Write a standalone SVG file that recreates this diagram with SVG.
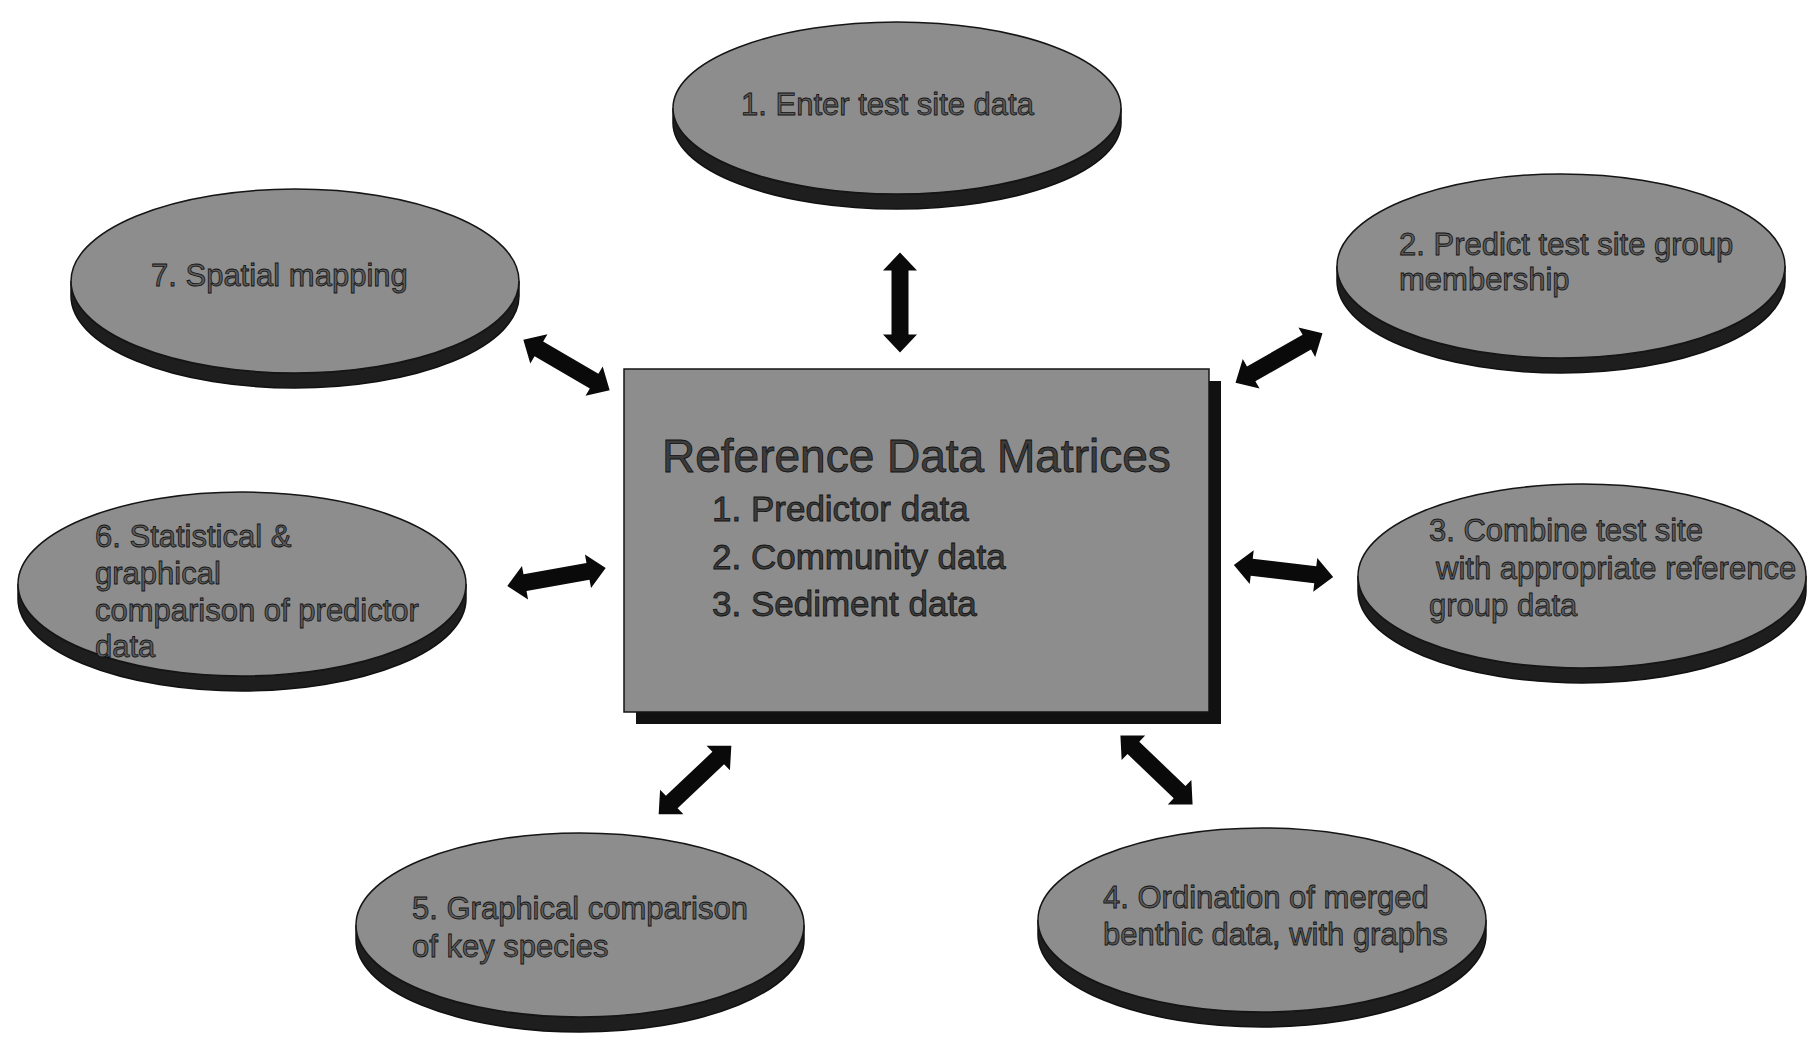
<svg xmlns="http://www.w3.org/2000/svg" xmlns:xlink="http://www.w3.org/1999/xlink" width="1819" height="1037" viewBox="0 0 1819 1037">
<style>
.face{fill:#8d8d8d;stroke:#151515;stroke-width:1.5}
.side{fill:#1e1e1e;stroke:#111;stroke-width:1.5}
.lbl{font-family:"Liberation Sans",Arial,sans-serif;font-size:31px;fill:#5c5c5c;stroke:#111;stroke-width:0.8}
.title{font-family:"Liberation Sans",Arial,sans-serif;font-size:46px;fill:#3c3c3c;stroke:#111;stroke-width:0.8}
.item{font-family:"Liberation Sans",Arial,sans-serif;font-size:35px;fill:#3c3c3c;stroke:#111;stroke-width:0.8}
.arr{fill:#0a0a0a}
</style>
<defs>
<path id="dbl" d="M -50 0 L -32 -17 L -32 -8.5 L 32 -8.5 L 32 -17 L 50 0 L 32 17 L 32 8.5 L -32 8.5 L -32 17 Z"/>
</defs>
<rect width="1819" height="1037" fill="#ffffff"/>

<g id="center">
<rect x="636" y="381" width="585" height="343" fill="#111"/>
<rect x="624" y="369" width="585" height="343" class="face"/>
<text class="title" x="662" y="472">Reference Data Matrices</text>
<text class="item" x="712" y="521">1. Predictor data</text>
<text class="item" x="712" y="569">2. Community data</text>
<text class="item" x="712" y="616">3. Sediment data</text>
</g>

<g id="n1">
<path class="side" d="M 673 108 v15 A 224 86 0 0 0 1121 123 v-15 A 224 86 0 0 1 673 108 Z"/>
<ellipse class="face" cx="897" cy="108" rx="224" ry="86"/>
<text class="lbl" x="741" y="115">1. Enter test site data</text>
</g>

<g id="n2">
<path class="side" d="M 1337 266 v15 A 224 92 0 0 0 1785 281 v-15 A 224 92 0 0 1 1337 266 Z"/>
<ellipse class="face" cx="1561" cy="266" rx="224" ry="92"/>
<text class="lbl" x="1399" y="255">2. Predict test site group</text>
<text class="lbl" x="1399" y="290">membership</text>
</g>

<g id="n3">
<path class="side" d="M 1358 576 v15 A 224 92 0 0 0 1806 591 v-15 A 224 92 0 0 1 1358 576 Z"/>
<ellipse class="face" cx="1582" cy="576" rx="224" ry="92"/>
<text class="lbl" x="1429" y="541">3. Combine test site</text>
<text class="lbl" x="1436" y="579">with appropriate reference</text>
<text class="lbl" x="1429" y="616">group data</text>
</g>

<g id="n4">
<path class="side" d="M 1038 920 v15 A 224 92 0 0 0 1486 935 v-15 A 224 92 0 0 1 1038 920 Z"/>
<ellipse class="face" cx="1262" cy="920" rx="224" ry="92"/>
<text class="lbl" x="1103" y="908">4. Ordination of merged</text>
<text class="lbl" x="1103" y="945">benthic data, with graphs</text>
</g>

<g id="n5">
<path class="side" d="M 356 925 v15 A 224 92 0 0 0 804 940 v-15 A 224 92 0 0 1 356 925 Z"/>
<ellipse class="face" cx="580" cy="925" rx="224" ry="92"/>
<text class="lbl" x="412" y="919">5. Graphical comparison</text>
<text class="lbl" x="412" y="957">of key species</text>
</g>

<g id="n6">
<path class="side" d="M 18 584 v15 A 224 92 0 0 0 466 599 v-15 A 224 92 0 0 1 18 584 Z"/>
<ellipse class="face" cx="242" cy="584" rx="224" ry="92"/>
<text class="lbl" x="95" y="547">6. Statistical &amp;</text>
<text class="lbl" x="95" y="584">graphical</text>
<text class="lbl" x="95" y="621">comparison of predictor</text>
<text class="lbl" x="95" y="657">data</text>
</g>

<g id="n7">
<path class="side" d="M 71 281 v15 A 224 92 0 0 0 519 296 v-15 A 224 92 0 0 1 71 281 Z"/>
<ellipse class="face" cx="295" cy="281" rx="224" ry="92"/>
<text class="lbl" x="151" y="286">7. Spatial mapping</text>
</g>

<g id="connectors" class="arr">
<use xlink:href="#dbl" href="#dbl" transform="translate(900 302.5) rotate(90)"/>
<use xlink:href="#dbl" href="#dbl" transform="translate(566.5 365) rotate(30.3)"/>
<use xlink:href="#dbl" href="#dbl" transform="translate(1279 358) rotate(-29.6)"/>
<use xlink:href="#dbl" href="#dbl" transform="translate(556.5 577) rotate(-10.3)"/>
<use xlink:href="#dbl" href="#dbl" transform="translate(1283.5 571) rotate(6.8)"/>
<use xlink:href="#dbl" href="#dbl" transform="translate(695 780) rotate(-43.4)"/>
<use xlink:href="#dbl" href="#dbl" transform="translate(1156.5 770) rotate(43.8)"/>
</g>
</svg>
